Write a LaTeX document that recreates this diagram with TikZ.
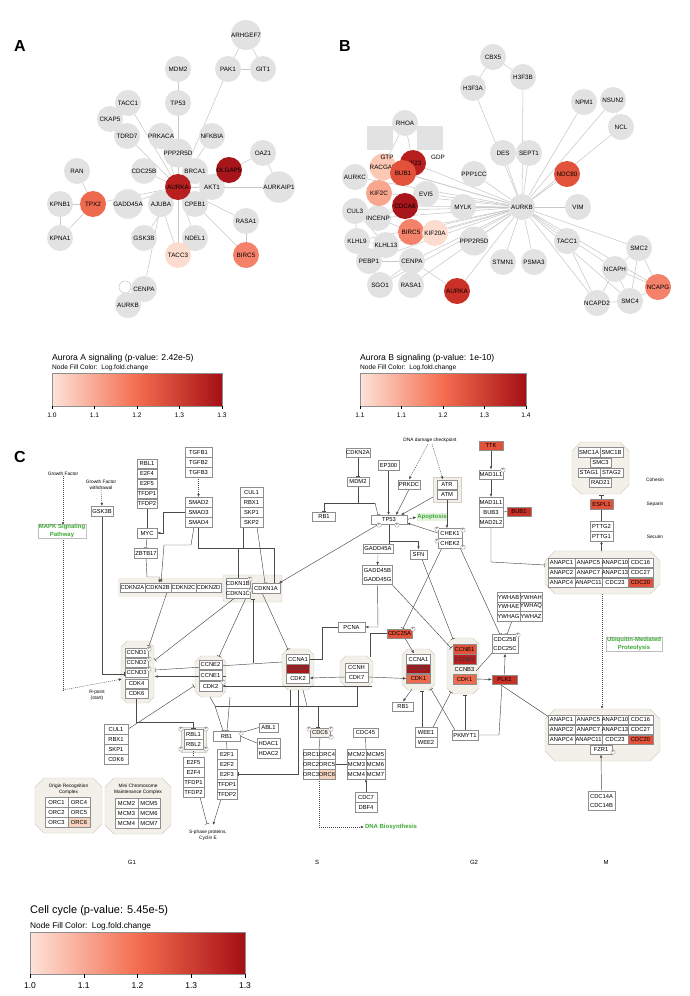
\documentclass[tikz,border=0pt]{standalone}
\usepackage{fontspec}
\setmainfont{Liberation Sans}
\usetikzlibrary{arrows.meta,calc}
\pgfdeclarelayer{grp}
\pgfdeclarelayer{lns}
\pgfsetlayers{grp,lns,main}
\definecolor{ngray}{HTML}{E2E2E2}
\definecolor{egray}{HTML}{C9C9C9}
\definecolor{bgray}{HTML}{8E8E8E}
\definecolor{lgray}{HTML}{4A4A4A}
\definecolor{grpf}{HTML}{F2F0E9}
\definecolor{grpd}{HTML}{D3CFC4}
\definecolor{dred}{HTML}{A8161B}
\definecolor{red1}{HTML}{B82020}
\definecolor{red2}{HTML}{C93026}
\definecolor{ora1}{HTML}{E2513A}
\definecolor{ora2}{HTML}{EE6A4E}
\definecolor{sal1}{HTML}{F4826A}
\definecolor{sal2}{HTML}{F8A68E}
\definecolor{pink1}{HTML}{FBC8B4}
\definecolor{pink2}{HTML}{FCDCCF}
\definecolor{peach}{HTML}{F5D3BE}
\definecolor{ggreen}{HTML}{3DA935}
\definecolor{lgreen}{HTML}{E3F3DF}
\definecolor{gradL}{HTML}{FDE3D8}
\definecolor{gradM}{HTML}{F46D4F}
\definecolor{gradR}{HTML}{A50F15}
\newcommand{\myfs}[1]{\fontsize{#1}{#1}\selectfont}
\newcommand{\octag}[5]{%
 \begin{pgfonlayer}{grp}\filldraw[fill=grpf,draw=grpd,line width=0.45pt] ({#1+#5},#2)--({#3-#5},#2)--(#3,{#2+#5})--(#3,{#4-#5})--({#3-#5},#4)--({#1+#5},#4)--(#1,{#4-#5})--(#1,{#2+#5})--cycle;\end{pgfonlayer}}
\tikzset{
 gn/.style={circle,fill=ngray,minimum size=26pt,inner sep=0pt,font=\myfs{6.3}},
 ge/.style={draw=egray,line width=0.55pt},
 bx/.style={draw=bgray,fill=white,line width=0.35pt,inner sep=0pt,minimum height=9.6pt,font=\myfs{5.8}},
 bxx/.style={bx,align=center,font=\fontsize{5.8}{9}\selectfont},
 cl/.style={draw=lgray,line width=0.45pt},
 ar/.style={-{Latex[length=3.2pt,width=2.6pt]}},
 tb/.style={-{Bar[width=4.5pt]}},
 dt/.style={dash pattern=on 1pt off 1pt},
 pc/.style={circle,draw=bgray,fill=white,line width=0.3pt,inner sep=0pt,minimum size=4.5pt,font=\myfs{2.8}},
 gt/.style={text=ggreen,font=\bfseries\fontsize{6}{7.2}\selectfont,align=center,inner sep=0.8pt},
 sm/.style={font=\fontsize{4.8}{5.8}\selectfont,align=center,inner sep=0pt},
 plet/.style={font=\bfseries\myfs{16},inner sep=0pt},
 lgt/.style={anchor=west,inner sep=0pt},
}
\begin{document}
\begin{tikzpicture}[x=1pt,y=-1pt]
\useasboundingbox (0,0) rectangle (690,996);
\begin{pgfonlayer}{grp}
\fill[white] (0,0) rectangle (690,996);
\end{pgfonlayer}

% ================= PANEL A =================
\node[plet] (labA) at (20,46) {A};
\node[gn] (a1) at (246,35) {ARHGEF7};
\node[gn] (a2) at (228,69) {PAK1};
\node[gn] (a3) at (263,69) {GIT1};
\node[gn] (a4) at (178,69) {MDM2};
\node[gn] (a5) at (178,103) {TP53};
\node[gn] (a6) at (128,103) {TACC1};
\node[gn] (a7) at (110,119) {CKAP5};
\node[gn] (a8) at (127,136) {TDRD7};
\node[gn] (a9) at (161,136) {PRKACA};
\node[gn] (a10) at (212,136) {NFKBIA};
\node[gn] (a11) at (178,153) {PPP2R5D};
\node[gn] (a12) at (263,153) {OAZ1};
\node[gn] (a13) at (77,171) {RAN};
\node[gn] (a14) at (144,171) {CDC25B};
\node[gn] (a15) at (195,171) {BRCA1};
\node[gn] (a18) at (212,187) {AKT1};
\node[gn] (a19) at (279,187) {AURKAIP1};
\node[gn] (a20) at (60,204) {KPNB1};
\node[gn] (a22) at (128,204) {GADD45A};
\node[gn] (a23) at (161,204) {AJUBA};
\node[gn] (a24) at (195,204) {CPEB1};
\node[gn] (a25) at (246,221) {RASA1};
\node[gn] (a26) at (60,238) {KPNA1};
\node[gn] (a27) at (144,238) {GSK3B};
\node[gn] (a28) at (195,238) {NDEL1};
\node[gn] (a31) at (144,289) {CENPA};
\node[gn] (a32) at (128,305) {AURKB};
\node[gn,fill=pink2] (a29) at (178,255) {TACC3};
\node[gn,fill=sal1] (a30) at (246,255) {BIRC5};
\node[gn,fill=ora2] (a21) at (93,204) {TPX2};
\node[gn,fill=dred] (a16) at (229,170) {DLGAP5};
\node[gn,fill=red1] (a17) at (178,187) {AURKA};
\begin{pgfonlayer}{lns}
\foreach \u/\v in {a1/a2,a1/a3,a2/a3,a2/a17,a4/a5,a5/a17,a6/a17,a7/a6,a8/a17,a9/a17,a10/a17,a11/a17,a12/a19,a17/a19,a13/a21,a20/a21,a26/a21,a20/a26,a21/a17,a22/a17,a14/a17,a15/a17,a16/a17,a23/a17,a24/a17,a24/a30,a25/a17,a25/a30,a27/a17,a28/a17,a29/a17,a23/a29,a23/a31,a12/a16,a18/a17}
  \draw[ge] (\u) -- (\v);
\draw[ge] (125,287) circle (6);
\end{pgfonlayer}

% ================= PANEL B =================
\node[plet] (labB) at (345,46) {B};
\node[fill=ngray,minimum width=26pt,minimum height=24pt,inner sep=0pt] (gtpbox) at (380,138) {};
\node[fill=ngray,minimum width=26pt,minimum height=24pt,inner sep=0pt] (gdpbox) at (430,138) {};
\node[gn] (b1) at (493,57) {CBX5};
\node[gn] (b2) at (523,77) {H3F3B};
\node[gn] (b3) at (473,88) {H3F3A};
\node[gn] (b4) at (584,102) {NPM1};
\node[gn] (b5) at (613,100) {NSUN2};
\node[gn] (b6) at (621,127) {NCL};
\node[gn] (b7) at (405,123) {RHOA};
\node[gn] (b8) at (503,153) {DES};
\node[gn] (b9) at (529,153) {SEPT1};
\node[gn] (b11) at (355,177) {AURKC};
\node[gn] (b13) at (474,174) {PPP1CC};
\node[gn] (b16) at (426,194) {EVI5};
\node[gn] (b18) at (355,211) {CUL3};
\node[gn] (b19) at (463,207) {MYLK};
\node[gn] (b20) at (522,207) {AURKB};
\node[gn] (b21) at (578,207) {VIM};
\node[gn] (b22) at (378,218) {INCENP};
\node[gn] (b25) at (357,241) {KLHL9};
\node[gn] (b26) at (386,245) {KLHL13};
\node[gn] (b27) at (474,241) {PPP2R5D};
\node[gn] (b28) at (567,241) {TACC1};
\node[gn] (b29) at (639,248) {SMC2};
\node[gn] (b30) at (369,261) {PEBP1};
\node[gn] (b31) at (412,261) {CENPA};
\node[gn] (b32) at (503,262) {STMN1};
\node[gn] (b33) at (534,262) {PSMA3};
\node[gn] (b34) at (615,269) {NCAPH};
\node[gn] (b35) at (380,285) {SGO1};
\node[gn] (b36) at (411,285) {RASA1};
\node[gn] (b39) at (597,303) {NCAPD2};
\node[gn] (b40) at (630,301) {SMC4};
\node[gn,fill=red2] (b37) at (457,291) {AURKA};
\node[gn,fill=sal1] (b38) at (658,287) {NCAPG};
\node[gn,fill=ora1] (b14) at (567,174) {NDC80};
\node[gn,fill=pink1] (b12) at (383,167) {RACGAP};
\node[gn,fill=sal2] (b15) at (379,193) {KIF2C};
\node[gn,fill=red1] (b10) at (413,163) {KIF23};
\node[gn,fill=ora1] (b17) at (403,173) {BUB1};
\node[gn,fill=dred] (b23) at (405,206) {CDCA8};
\node[gn,fill=sal1] (b24) at (411,232) {BIRC5};
\node[gn,fill=pink2] (b41) at (435,233) {KIF20A};
\node[font=\myfs{6.3},inner sep=0pt] (gtpl) at (387,157) {GTP};
\node[font=\myfs{6.3},inner sep=0pt] (gdpl) at (438,157) {GDP};
\begin{pgfonlayer}{lns}
\foreach \v in {b2,b3,b8,b9,b4,b5,b6,b14,b13,b21,b19,b16,b23,b17,b10,b12,b15,b11,b22,b18,b25,b26,b24,b41,b27,b31,b30,b35,b36,b37,b32,b33,b28,b29,b34,b39,b38,b40}
  \draw[ge] (b20) -- (\v);
\foreach \u/\v in {b1/b3,b1/b2,b5/b6,b7/gtpbox,b7/gdpbox,b7/b10,b7/b12,b18/b25,b18/b26,b25/b26,b35/b31,b30/b31,b31/b37,b22/b23,b22/b24,b23/b24,b29/b34,b29/b40,b29/b38,b34/b38,b34/b40,b34/b39,b39/b40,b40/b38,b28/b39}
  \draw[ge] (\u) -- (\v);
\end{pgfonlayer}

% ================= LEGENDS A / B =================
\node[lgt,font=\myfs{8.6}] (la1) at (52,358) {Aurora A signaling (p-value: 2.42e-5)};
\node[lgt,font=\myfs{6.6}] (la2) at (52,368) {Node Fill Color:\ \ Log.fold.change};
\shade[left color=gradL,right color=gradR,middle color=gradM] (52,373) rectangle (222,406);
\draw[bgray,line width=0.6pt] (52,373) rectangle (222,406);
\foreach \i/\t in {0/1.0,1/1.1,2/1.2,3/1.3,4/1.3}{
  \draw[line width=0.4pt] (52+42.5*\i,406) -- ++(0,3);
  \node[font=\myfs{6.6}] at (52+42.5*\i,415) {\t};}
\node[lgt,font=\myfs{8.6}] (lb1) at (360,358) {Aurora B signaling (p-value: 1e-10)};
\node[lgt,font=\myfs{6.6}] (lb2) at (360,368) {Node Fill Color:\ \ Log.fold.change};
\shade[left color=gradL,right color=gradR,middle color=gradM] (360,373) rectangle (526,406);
\draw[bgray,line width=0.6pt] (360,373) rectangle (526,406);
\foreach \i/\t in {0/1.1,1/1.1,2/1.2,3/1.3,4/1.4}{
  \draw[line width=0.4pt] (360+41.5*\i,406) -- ++(0,3);
  \node[font=\myfs{6.6}] at (360+41.5*\i,415) {\t};}

% ================= PANEL C =================
\node[plet] (labC) at (20,457) {C};
\begin{pgfonlayer}{grp}
\fill[grpf] (118,578) rectangle (223,597);
\filldraw[fill=grpf,draw=grpd,line width=0.4pt,rounded corners=2pt] (223,575) rectangle (282,602);
\filldraw[fill=grpf,draw=grpd,line width=0.4pt] (433,477) rectangle (461,502);
\filldraw[fill=grpf,draw=grpd,line width=0.4pt] (181,727) rectangle (206,752);
\end{pgfonlayer}
\octag{121}{641}{154}{703}{6}
\octag{195}{656}{226}{697}{6}
\octag{282}{649}{314}{690}{6}
\octag{340}{656}{373}{687}{6}
\octag{402}{649}{435}{690}{6}
\octag{447}{638}{479}{694}{6}
\octag{572}{442}{629}{494}{9}
\octag{545}{551}{660}{594}{10}
\octag{545}{709}{660}{761}{10}
\octag{35}{778}{102}{833}{9}
\octag{105}{778}{171}{834}{9}

% texts
\node[sm] (gf) at (63,474) {Growth Factor};
\node[sm] (gfw) at (101,485) {Growth Factor\\withdrawal};
\node[gt,draw=black!25,line width=0.3pt,fill=white] (mapk) at (62,531) {MAPK Signaling\\Pathway};
\node[sm] (rpt) at (97,695) {R-point\\(start)};
\node[sm] (ddc) at (430,440) {DNA damage checkpoint};
\node[gt,fill=lgreen] (apop) at (432,517) {Apoptosis};
\node[gt,draw=black!25,line width=0.3pt,fill=white] (ubq) at (634,644) {Ubiquitin-Mediated\\Proteolysis};
\node[gt,anchor=west] (dnab) at (364,827) {DNA Biosynthesis};
\node[sm] (sph) at (208,835) {S-phase proteins,\\Cyclin E};
\node[sm] (coh) at (655,480) {Cohesin};
\node[sm] (sep) at (655,504) {Separin};
\node[sm] (sec) at (655,537) {Securin};
\node[sm] (orct) at (68.5,789) {Origin Recognition\\Complex};
\node[sm] (mcmt) at (138,789) {Mini Chromosome\\Maintenance Complex};
\node[font=\myfs{6},inner sep=0pt] (g1) at (132,862) {G1};
\node[font=\myfs{6},inner sep=0pt] (gs) at (317,862) {S};
\node[font=\myfs{6},inner sep=0pt] (g2) at (474,862) {G2};
\node[font=\myfs{6},inner sep=0pt] (gm) at (606,862) {M};

% boxes left
\node[bx,minimum width=22pt] (gsk) at (102,511) {GSK3B};
\foreach \n/\t/\y in {rbl1a/RBL1/463.5,e2f4a/E2F4/473.5,e2f5a/E2F5/483.5,tfdp1a/TFDP1/493.5,tfdp2a/TFDP2/503.5}
  \node[bx,minimum width=20pt] (\n) at (147,\y) {\t};
\node[bx,minimum width=20pt] (myc) at (147,533) {MYC};
\node[bx,minimum width=23pt] (zbtb) at (146,553) {ZBTB17};
\foreach \n/\t/\y in {tgfb1/TGFB1/452,tgfb2/TGFB2/462,tgfb3/TGFB3/472,smad2/SMAD2/502,smad3/SMAD3/512,smad4/SMAD4/522}
  \node[bx,minimum width=27pt] (\n) at (198.5,\y) {\t};
\foreach \n/\t/\y in {cul1a/CUL1/492,rbx1a/RBX1/502,skp1a/SKP1/512,skp2a/SKP2/522}
  \node[bx,minimum width=23pt] (\n) at (251.5,\y) {\t};
\node[bx,minimum width=25pt] (cdkn2a) at (132.5,587.5) {CDKN2A};
\node[bx,minimum width=26pt] (cdkn2b) at (158,587.5) {CDKN2B};
\node[bx,minimum width=25pt] (cdkn2c) at (183.5,587.5) {CDKN2C};
\node[bx,minimum width=25pt] (cdkn2d) at (208.5,587.5) {CDKN2D};
\node[bx,minimum width=24pt] (cdkn1b) at (238,583) {CDKN1B};
\node[bx,minimum width=24pt] (cdkn1c) at (238,593) {CDKN1C};
\node[bx,minimum width=28pt] (cdkn1a) at (266,588) {CDKN1A};
% cyclin groups
\foreach \n/\t/\y in {ccnd1/CCND1/652.5,ccnd2/CCND2/662.5,ccnd3/CCND3/672.5,ccnd4/CDK4/683.5,ccnd5/CDK6/693.5}
  \node[bx,minimum width=23pt] (\n) at (136.5,\y) {\t};
\foreach \n/\t/\y in {ccne1/CCNE2/664.5,ccne2/CCNE1/675,ccne3/CDK2/686}
  \node[bx,minimum width=23pt] (\n) at (210.5,\y) {\t};
\node[bx,minimum width=23pt] (ccnaL1) at (298,659) {CCNA1};
\node[bx,minimum width=23pt,fill=dred,text=black!70] (ccnaL2) at (298,668.5) {CCNA2};
\node[bx,minimum width=23pt] (ccnaL3) at (298,678) {CDK2};
\node[bx,minimum width=23pt] (ccnh) at (356.5,667.5) {CCNH};
\node[bx,minimum width=23pt] (cdk7) at (356.5,677) {CDK7};
\node[bx,minimum width=24pt] (ccnaR1) at (418.5,659) {CCNA1};
\node[bx,minimum width=24pt,fill=dred,text=black!70] (ccnaR2) at (418.5,668.5) {CCNA2};
\node[bx,minimum width=24pt,fill=ora2] (ccnaR3) at (418.5,678.5) {CDK1};
\node[bx,minimum width=23pt,fill=ora1] (ccnb1) at (464.5,649) {CCNB1};
\node[bx,minimum width=23pt,fill=red1,text=black!80] (ccnb2) at (464.5,659) {CCNB2};
\node[bx,minimum width=23pt,draw=none,fill=none] (ccnb3) at (464.5,669) {CCNB3};
\node[bx,minimum width=23pt,fill=ora2] (ccnb4) at (464.5,679) {CDK1};
\node[bx,minimum width=25pt,fill=red2] (plk1) at (504.5,679.5) {PLK1};
\node[bxx,minimum width=26pt,minimum height=19pt] (cdc25bc) at (505,644) {CDC25B\\CDC25C};
\foreach \n/\t/\x/\y in {yw1/YWHAB/508.5/597,yw2/YWHAH/531/597,yw3/YWHAE/508.5/606.5,yw4/YWHAQ/531/606.5,yw5/YWHAG/508.5/616,yw6/YWHAZ/531/616}
  \node[bx,minimum width=22.5pt] (\n) at (\x,\y) {\t};
\node[bx,minimum width=21pt] (rb1g) at (403,706.5) {RB1};
\node[bx,minimum width=22pt] (wee1) at (426,732) {WEE1};
\node[bx,minimum width=22pt] (wee2) at (426,742) {WEE2};
\node[bx,minimum width=26pt] (pkmyt1) at (465,735) {PKMYT1};
% top middle
\node[bx,minimum width=24pt] (cdkn2at) at (358,452.5) {CDKN2A};
\node[bx,minimum width=22pt] (mdm2) at (358,481.5) {MDM2};
\node[bx,minimum width=23pt] (rb1t) at (324,516.5) {RB1};
\node[bx,minimum width=21pt] (ep300) at (388.5,465) {EP300};
\node[bx,minimum width=22pt] (prkdc) at (409,484.5) {PRKDC};
\node[bx,minimum width=20pt] (atr) at (447,484.5) {ATR};
\node[bx,minimum width=20pt] (atm) at (447,494.5) {ATM};
\node[bx,minimum width=36pt,minimum height=9pt] (tp53) at (389,519.5) {TP53};
\node[bx,minimum width=24pt] (chek1) at (450,533) {CHEK1};
\node[bx,minimum width=24pt] (chek2) at (450,543) {CHEK2};
\node[bx,minimum width=30pt] (gadd45a) at (378,548.5) {GADD45A};
\node[bx,minimum width=17pt] (sfn) at (418.5,554.5) {SFN};
\node[bxx,minimum width=30pt,minimum height=19pt] (gadd45bg) at (377.5,575) {GADD45B\\GADD45G};
\node[bx,minimum width=27pt] (pcna) at (351.5,627) {PCNA};
\node[bx,minimum width=25pt,fill=ora1] (cdc25a) at (399.5,633.5) {CDC25A};
% right
\node[bx,minimum width=24pt,fill=ora1] (ttk) at (491,445.5) {TTK};
\node[bx,minimum width=24pt] (mad1a) at (491,474.5) {MAD1L1};
\node[bx,minimum width=24pt] (mad1b) at (491,502) {MAD1L1};
\node[bx,minimum width=24pt] (bub3) at (491,512) {BUB3};
\node[bx,minimum width=24pt] (mad2l2) at (491,522) {MAD2L2};
\node[bx,minimum width=24pt,fill=red2] (bub1) at (519,511.5) {BUB1};
\node[bx,minimum width=22pt] (smc1a) at (589,452) {SMC1A};
\node[bx,minimum width=23pt] (smc1b) at (611.5,452) {SMC1B};
\node[bx,minimum width=21pt] (smc3) at (600.5,462.5) {SMC3};
\node[bx,minimum width=22pt] (stag1) at (589,472.5) {STAG1};
\node[bx,minimum width=23pt] (stag2) at (611.5,472.5) {STAG2};
\node[bx,minimum width=22pt] (rad21) at (600.5,482.5) {RAD21};
\node[bx,minimum width=23pt,fill=ora1] (espl1) at (601.5,504) {ESPL1};
\node[bx,minimum width=23pt] (pttg2) at (601.5,526) {PTTG2};
\node[bx,minimum width=23pt] (pttg1) at (601.5,536) {PTTG1};
\foreach \n/\t/\x/\w/\y in {ap1/ANAPC1/561.5/27/562.5,ap2/ANAPC5/588.5/27/562.5,ap3/ANAPC10/615/26/562.5,ap4/CDC16/640.5/25/562.5,
  ap5/ANAPC2/561.5/27/572.5,ap6/ANAPC7/588.5/27/572.5,ap7/ANAPC13/615/26/572.5,ap8/CDC27/640.5/25/572.5,
  ap9/ANAPC4/561.5/27/582.5,ap10/ANAPC11/588.5/27/582.5,ap11/CDC23/615/26/582.5}
  \node[bx,minimum width=\w pt] (\n) at (\x,\y) {\t};
\node[bx,minimum width=25pt,fill=ora1] (ap12) at (640.5,582.5) {CDC20};
\foreach \n/\t/\x/\w/\y in {aq1/ANAPC1/561.5/27/719.5,aq2/ANAPC5/588.5/27/719.5,aq3/ANAPC10/615/26/719.5,aq4/CDC16/640.5/25/719.5,
  aq5/ANAPC2/561.5/27/729.5,aq6/ANAPC7/588.5/27/729.5,aq7/ANAPC13/615/26/729.5,aq8/CDC27/640.5/25/729.5,
  aq9/ANAPC4/561.5/27/739.5,aq10/ANAPC11/588.5/27/739.5,aq11/CDC23/615/26/739.5}
  \node[bx,minimum width=\w pt] (\n) at (\x,\y) {\t};
\node[bx,minimum width=25pt,fill=ora1] (aq12) at (640.5,739.5) {CDC20};
\node[bx,minimum width=22pt] (fzr1) at (601,749.5) {FZR1};
\node[bxx,minimum width=27pt,minimum height=19pt] (cdc14) at (601.5,801) {CDC14A\\CDC14B};
% bottom left
\foreach \n/\t/\y in {cul1b/CUL1/729,rbx1b/RBX1/739,skp1b/SKP1/749,cdk6b/CDK6/759}
  \node[bx,minimum width=24pt] (\n) at (116,\y) {\t};
\node[bx,minimum width=19pt] (rbl1) at (193.5,734) {RBL1};
\node[bx,minimum width=19pt] (rbl2) at (193.5,744) {RBL2};
\foreach \n/\t/\y in {e2f5/E2F5/762,e2f4/E2F4/772,tfdp1b/TFDP1/782,tfdp2b/TFDP2/792}
  \node[bx,minimum width=21pt] (\n) at (193.5,\y) {\t};
\node[bx,minimum width=27pt] (rb1b) at (226.5,736) {RB1};
\foreach \n/\t/\y in {e2f1/E2F1/754,e2f2/E2F2/764,e2f3/E2F3/774,tfdp1c/TFDP1/784,tfdp2c/TFDP2/794}
  \node[bx,minimum width=20pt] (\n) at (227,\y) {\t};
\node[bx,minimum width=19pt] (abl1) at (268.5,727.5) {ABL1};
\node[bx,minimum width=23pt] (hdac1) at (268.5,743) {HDAC1};
\node[bx,minimum width=23pt] (hdac2) at (268.5,753) {HDAC2};
\node[bx,minimum width=20pt,fill=grpf] (cdc6) at (320,732.5) {CDC6};
\foreach \n/\t/\x/\y in {orA1/ORC1/311/754,orA4/ORC4/327/754,orA2/ORC2/311/764,orA5/ORC5/327/764,orA3/ORC3/311/774}
  \node[bx,minimum width=16pt] (\n) at (\x,\y) {\t};
\node[bx,minimum width=16pt,fill=peach] (orA6) at (327,774) {ORC6};
\foreach \n/\t/\x/\y in {mcA2/MCM2/356.5/754,mcA5/MCM5/375.5/754,mcA3/MCM3/356.5/764,mcA6/MCM6/375.5/764,mcA4/MCM4/356.5/774,mcA7/MCM7/375.5/774}
  \node[bx,minimum width=19pt] (\n) at (\x,\y) {\t};
\node[bx,minimum width=25pt] (cdc45) at (365.5,732.5) {CDC45};
\node[bx,minimum width=22pt] (cdc7) at (366,797) {CDC7};
\node[bx,minimum width=22pt] (dbf4) at (366,807) {DBF4};
\foreach \n/\t/\x/\y in {orB1/ORC1/56.5/802,orB4/ORC4/79/802,orB2/ORC2/56.5/812,orB5/ORC5/79/812,orB3/ORC3/56.5/822}
  \node[bx,minimum width=22.5pt] (\n) at (\x,\y) {\t};
\node[bx,minimum width=22.5pt,fill=peach] (orB6) at (79,822) {ORC6};
\foreach \n/\t/\x/\y in {mcB2/MCM2/126.5/803,mcB5/MCM5/149/803,mcB3/MCM3/126.5/813,mcB6/MCM6/149/813,mcB4/MCM4/126.5/823,mcB7/MCM7/149/823}
  \node[bx,minimum width=22.5pt] (\n) at (\x,\y) {\t};
% P circles
\foreach \x/\y [count=\k] in {149/649,149/659,149/669,250/579,250/590,223/682,379/525,397/525,437/529,463/530,437/541,463/547,413/629,518/635,503/470,613/752,181/729,206/729,181/749,206/749,241/733,309/729,331/729,331/737}
  \node[pc] (pp\k) at (\x,\y) {P};

% ---------- panel C connectors ----------
\begin{pgfonlayer}{lns}
\draw[cl,dt,ar] (gf.south) -- (63,525.5);
\draw[cl,dt] (63,537.5) -- (63,690);
\draw[cl,dt,ar] (63,690) -- (122,679);
\draw[cl,dt,ar] (gfw.south) -- (gsk.north);
\draw[cl,tb] (gsk.south) -- (102,674) -- (124.5,674);
\draw[cl,tb] (tfdp2a.south) -- (myc.north);
\draw[cl,tb] (myc.south) -- (zbtb.north);
\draw[cl,ar] (zbtb.south) -- (147,577) -- (159.5,577) -- (159.5,582.7);
\draw[cl,dt,ar] (tgfb3.south) -- (smad2.north);
\draw[cl,ar] (smad3.west) -- (163,512) -- (163,533) -- (myc.east);
\draw[cl,ar] (194,526.8) -- (191,545) -- (164,545) -- (161,582.7);
\draw[cl,tb] (198.5,526.8) -- (198.5,548) -- (238,548) -- (238,578.2);
\draw[cl] (243,526.8) -- (243,548);
\draw[cl] (238,548) -- (274,548);
\draw[cl,tb] (274,548) -- (274,583.2);
\draw[cl,tb] (257,526.8) -- (265,583.2);
\draw[cl,tb] (167,592.3) -- (149,646);
\draw[cl,tb] (235,597.8) -- (155,660);
\draw[cl,tb] (246,597.8) -- (219,656.5);
\draw[cl,tb] (262,592.8) -- (288,649.5);
\draw[cl,tb] (253,663) -- (253,598.5);
\draw[cl,tb] (282,662) -- (155,670);
\draw[cl] (cdc25a.west) -- (370,633.5) -- (370,657);
\draw[cl,ar] (cdk7.west) -- (ccnaL3.east);
\draw[cl,ar] (cdk7.east) -- (ccnaR3.west);
\draw[cl,ar] (372,686) -- (ccne3.east);
\draw[cl,ar] (226,676.5) -- (154.5,676.5);
\draw[cl,ar] (gadd45bg.south) -- (378,627) -- (pcna.east);
\draw[cl] (pcna.west) -- (322,627) -- (322,659) -- (ccnaL1.east);
\draw[cl,tb] (cdkn2at.south) -- (mdm2.north);
\draw[cl] (mdm2.south) -- (358,503);
\draw[cl] (324,503) -- (375,503);
\draw[cl,tb] (324,503) -- (rb1t.north);
\draw[cl,tb] (375,503) -- (378,515);
\draw[cl,ar] (ep300.south) -- (388.5,515);
\draw[cl,ar] (prkdc.south) -- (396,515);
\draw[cl,ar] (433,497) -- (401,515);
\draw[cl,dt,ar] (428,444) -- (prkdc.north);
\draw[cl,dt,ar] (432,444) -- (443,479.5);
\draw[cl,ar] (447,499.3) -- (447,528.2);
\draw[cl,ar] (chek1.west) -- (407,523);
\draw[cl,ar] (tp53.east) -- (apop.west);
\draw[cl,ar] (379,524) -- (279,583.2);
\draw[cl] (389,524) -- (389,543.7);
\draw[cl,ar] (389,541) -- (418.5,541) -- (sfn.north);
\draw[cl,dt,ar] (gadd45a.south) -- (gadd45bg.north);
\draw[cl,tb] (392,584.5) -- (451,648);
\draw[cl,tb] (422,559.3) -- (453,639);
\draw[cl,tb] (442,547.8) -- (403,628.5);
\draw[cl,tb] (460,547.8) -- (500,634.5);
\draw[cl,tb] (512,620.8) -- (507,634.5);
\draw[cl,ar] (405,638.3) -- (414,653.5);
\draw[cl,ar] (412,689) -- (rb1g.north);
\draw[cl,tb] (422,727.2) -- (422,690.5);
\draw[cl,tb] (433,727.2) -- (451,692);
\draw[cl,tb] (455,730.2) -- (431,689);
\draw[cl,tb] (465,730.2) -- (465,694.5);
\draw[cl,ar] (ccnb4.east) -- (plk1.west);
\draw[cl,ar] (plk1.north) -- (cdc25bc.south);
\draw[cl] (476,671) -- (493,652);
\draw[cl,tb] (502,684.3) -- (499,735) -- (pkmyt1.east);
\draw[cl] (500,684.3) -- (549,717);
\draw[cl,ar] (ttk.south) -- (mad1a.north);
\draw[cl,ar] (mad1a.south) -- (mad1b.north);
\draw[cl] (bub3.east) -- (bub1.west);
\draw[cl,tb] (mad2l2.south) -- (491,562) -- (545,565);
\draw[cl,tb] (espl1.north) -- (601.5,494.5);
\draw[cl,tb] (pttg2.north) -- (espl1.south);
\draw[cl,ar] (601.5,551) -- (pttg1.south);
\draw[cl,dt,ar] (602,594) -- (602,709);
\draw[cl,ar] (cdc14.north) -- (fzr1.south);
\draw[cl,tb] (cul1b.east) -- (194,686);
\draw[cl,tb] (ccnd5.south) -- (136.5,722) -- (193.5,722) -- (193.5,728.8);
\draw[cl] (210,697) -- (215,706);
\draw[cl,tb] (215,706) -- (223,730.8);
\draw[cl,tb] (230,697) -- (227,730.8);
\draw[cl] (215,706) -- (357,706) -- (357,687);
\draw[cl] (290,690) -- (290,706);
\draw[cl] (303,690) -- (307,706);
\draw[cl,tb] (298,690) -- (298,774) -- (237.5,774);
\draw[cl,tb] (318,706) -- (318,727.8);
\draw[cl] (240,733) -- (abl1.west);
\draw[cl] (240,736) -- (hdac1.west);
\draw[cl,dt] (rbl2.south) -- (e2f5.north);
\draw[cl] (rb1b.south) -- (e2f1.north);
\draw[cl,tb] (200,797) -- (207,824);
\draw[cl,ar] (221,799) -- (213,825);
\draw[cl] (cdc6.south) -- (319,749.2);
\draw[cl] (335,764) -- (347,764);
\draw[cl] (cdc45.south) -- (366,749.2);
\draw[cl,ar] (cdc7.north) -- (366,779);
\draw[cl,dt,ar] (319,779) -- (319,827) -- (dnab.west);
\end{pgfonlayer}

% ================= CELL CYCLE LEGEND =================
\node[lgt,font=\myfs{11}] (lc1) at (30,911) {Cell cycle (p-value: 5.45e-5)};
\node[lgt,font=\myfs{8.3}] (lc2) at (30,926) {Node Fill Color:\ \ Log.fold.change};
\shade[left color=gradL,right color=gradR,middle color=gradM] (30,932) rectangle (245,974);
\draw[bgray,line width=0.6pt] (30,932) rectangle (245,974);
\foreach \i/\t in {0/1.0,1/1.1,2/1.2,3/1.3,4/1.3}{
  \draw[line width=0.5pt] (30+53.75*\i,974) -- ++(0,4);
  \node[font=\myfs{8.5}] at (30+53.75*\i,986) {\t};}
\end{tikzpicture}
\end{document}
